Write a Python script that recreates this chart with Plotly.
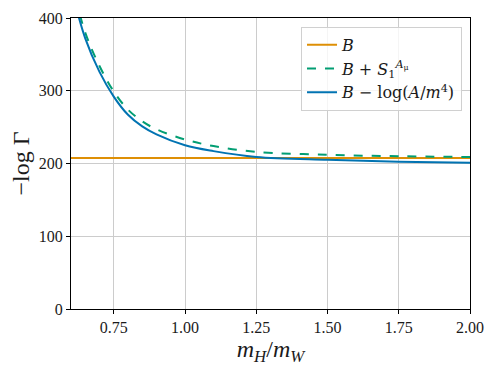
import plotly.graph_objects as go

# data
x_vals = [0.6, 0.65, 0.7, 0.75, 0.8, 0.85, 0.9, 1.0, 1.1, 1.25, 1.5, 1.75, 2.0]
b_vals = [207.5] * len(x_vals)
b_s1_vals = [452, 380, 334, 299, 274, 258, 247, 233, 224, 216, 212, 210, 209]
b_log_vals = [442, 372, 326, 292, 267, 251, 240, 225, 217, 209, 205, 202.5, 201]

ORANGE = "#DE8F05"
GREEN = "#029E73"
BLUE = "#0173B2"
FONT = "Liberation Serif"
LEG_FONT = "DejaVu Serif"
TXT = "#1a1a1a"

fig = go.Figure()
fig.add_trace(go.Scatter(
    x=x_vals, y=b_vals, mode="lines", name="<i>B</i>",
    line=dict(color=ORANGE, width=2),
))
fig.add_trace(go.Scatter(
    x=x_vals, y=b_s1_vals, mode="lines", line_shape="spline",
    name="<i>B</i> + <i>S</i><sub>1</sub><sup><i>A</i><sub>μ</sub></sup>",
    line=dict(color=GREEN, width=2, dash="dash"),
))
fig.add_trace(go.Scatter(
    x=x_vals, y=b_log_vals, mode="lines", line_shape="spline",
    name="<i>B</i> − log(<i>A</i>/<i>m</i><sup>4</sup>)",
    line=dict(color=BLUE, width=2),
))

axis_common = dict(
    showline=True, linecolor="black", linewidth=1, mirror=True,
    ticks="outside", ticklen=4, tickcolor="black", automargin=False,
    showgrid=True, gridcolor="#cccccc", gridwidth=1,
    zeroline=False, tickfont=dict(family=FONT, size=16, color=TXT),
)
fig.update_xaxes(
    range=[0.6, 2.0], tickvals=[0.75, 1.0, 1.25, 1.5, 1.75, 2.0],
    ticktext=["0.75", "1.00", "1.25", "1.50", "1.75", "2.00"],
    title=dict(text="<i>m</i><sub><i>H</i></sub>/<i>m</i><sub><i>W</i></sub>",
               font=dict(family=FONT, size=24, color=TXT), standoff=4),
    **axis_common,
)
fig.update_yaxes(
    range=[0, 400], tickvals=[0, 100, 200, 300, 400],
    title=dict(text="−log Γ", font=dict(family=FONT, size=24, color=TXT), standoff=8),
    **axis_common,
)

# page body has an 8px margin, so margins are shifted to land the plot area
fig.update_layout(
    width=498, height=374,
    paper_bgcolor="white", plot_bgcolor="white",
    font=dict(family=FONT, color=TXT),
    margin=dict(l=63, r=36, t=10, b=73),
    legend=dict(
        x=0.98, y=0.97, xanchor="right", yanchor="top",
        bgcolor="rgba(255,255,255,0.8)", bordercolor="#d0d0d0", borderwidth=1,
        font=dict(family=LEG_FONT, size=16, color=TXT), tracegroupgap=2,
    ),
)

fig.write_html("out.html")
